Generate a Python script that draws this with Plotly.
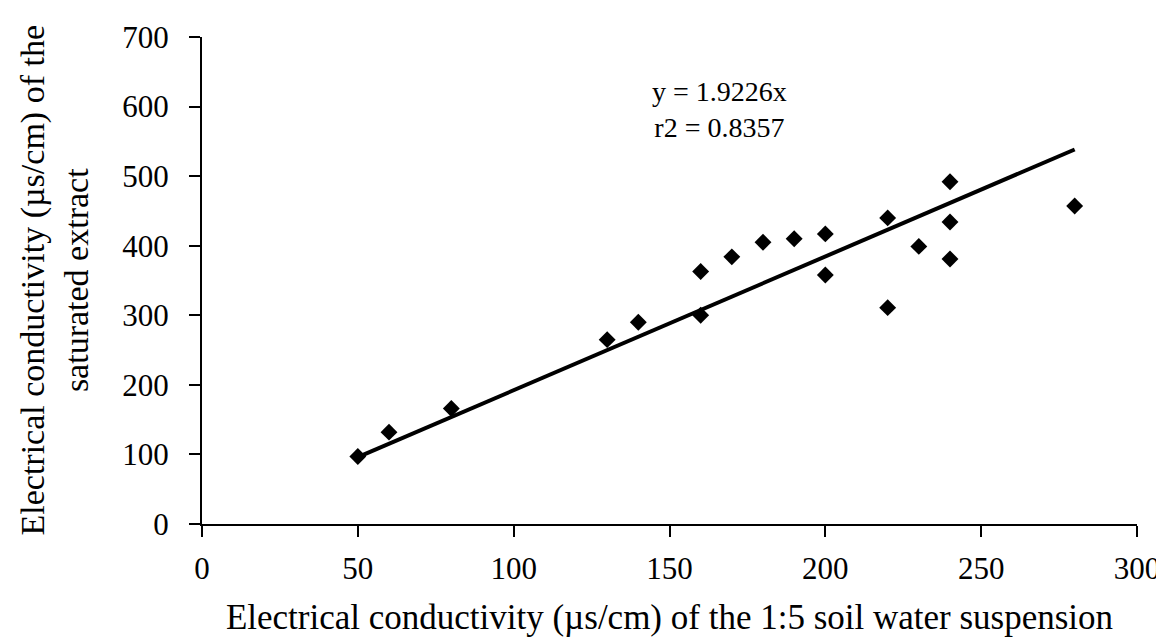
import plotly.graph_objects as go

# EC of 1:5 suspension vs EC of saturated extract
ec_15 = [50, 60, 80, 130, 140, 160, 160, 170, 180, 190, 200, 200,
         220, 220, 230, 240, 240, 240, 280]
ec_se = [97, 132, 166, 265, 290, 300, 363, 384, 405, 410, 417, 358,
         440, 311, 399, 492, 434, 381, 457]

slope = 1.9226
r2 = 0.8357
fit_x = [min(ec_15), max(ec_15)]
fit_y = [slope * v for v in fit_x]

x_ticks = [0, 50, 100, 150, 200, 250, 300]
y_ticks = [0, 100, 200, 300, 400, 500, 600, 700]

serif = "Liberation Serif"

fig = go.Figure()
fig.add_trace(go.Scatter(x=fit_x, y=fit_y, mode="lines",
                         line=dict(color="black", width=4), showlegend=False))
fig.add_trace(go.Scatter(x=ec_15, y=ec_se, mode="markers",
                         marker=dict(symbol="diamond", size=13, color="black"),
                         showlegend=False))

fig.add_annotation(x=166, y=596, text=f"y = {slope}x<br>r2 = {r2}", showarrow=False,
                   align="center", font=dict(family=serif, size=28, color="black"))

# y title as a rotated two-line annotation
fig.add_annotation(xref="paper", yref="paper", x=0, y=0.5, xshift=-148,
                   text="Electrical conductivity (µs/cm) of the<br>saturated extract",
                   textangle=-90, showarrow=False, xanchor="center", yanchor="middle",
                   font=dict(family=serif, size=34, color="black"))

axis_style = dict(showline=True, linecolor="black", linewidth=2, ticks="outside",
                  ticklen=11, tickwidth=2, tickcolor="black", showgrid=False,
                  zeroline=False, tickfont=dict(family=serif, size=31, color="black"))

fig.update_xaxes(range=[0, 300], tickvals=x_ticks, ticklabelstandoff=5,
                 title=dict(text="Electrical conductivity (µs/cm) of the 1:5 soil water suspension",
                            font=dict(family=serif, size=35, color="black"), standoff=19),
                 **axis_style)
fig.update_yaxes(range=[0, 700], tickvals=y_ticks, ticklabelstandoff=14, **axis_style)

fig.update_layout(width=1164, height=644, plot_bgcolor="white", paper_bgcolor="white",
                  margin=dict(l=194, r=31, t=26, b=128))

fig.write_html("out.html")
